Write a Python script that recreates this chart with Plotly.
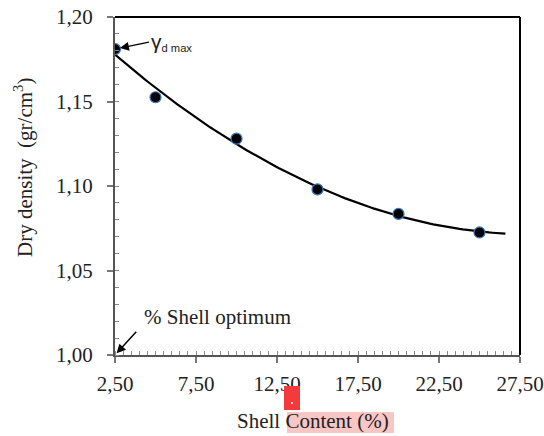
import numpy as np
import plotly.graph_objects as go

shell_content = [2.5, 5.0, 10.0, 15.0, 20.0, 25.0]
dry_density = [1.181, 1.1525, 1.128, 1.098, 1.0835, 1.0725]
trend_end = 26.6

x_ticks = [2.5, 7.5, 12.5, 17.5, 22.5, 27.5]
y_ticks = [1.00, 1.05, 1.10, 1.15, 1.20]

x_title = "Shell Content (%)"
y_title = "Dry density  (gr/cm<sup>3</sup>)"

# polynomial (order 2) trend line fitted to the measured points
coef = np.polyfit(shell_content, dry_density, 2)
xs = np.linspace(shell_content[0], trend_end, 120)
ys = np.polyval(coef, xs)

W, H = 544, 436
ML, MR, MT, MB = 115, 24, 17, 81
serif = "Liberation Serif"
FS = 21

fig = go.Figure()
fig.add_trace(go.Scatter(x=xs, y=ys, mode="lines",
                         line=dict(color="black", width=2.2), hoverinfo="skip"))
fig.add_trace(go.Scatter(x=shell_content, y=dry_density, mode="markers",
                         marker=dict(color="black", size=11,
                                     line=dict(color="#3a78c0", width=1.2))))

def px2paper_x(px):
    return (px - ML) / (W - ML - MR)

def px2paper_y(py):
    return (H - MB - py) / (H - MT - MB)

shapes = [
    dict(type="line", xref="paper", yref="paper", x0=0, x1=1, y0=1, y1=1,
         line=dict(color="black", width=2)),
    dict(type="line", xref="paper", yref="paper", x0=1, x1=1, y0=0, y1=1,
         line=dict(color="black", width=2)),
    dict(type="rect", xref="paper", yref="paper", layer="below",
         x0=px2paper_x(287), x1=px2paper_x(394), y0=px2paper_y(433), y1=px2paper_y(412),
         fillcolor="#f9c6c6", line=dict(width=0)),
    dict(type="rect", xref="paper", yref="paper",
         x0=px2paper_x(284), x1=px2paper_x(300), y0=px2paper_y(410), y1=px2paper_y(386),
         fillcolor="#f43a3a", line=dict(width=0)),
    dict(type="circle", xref="paper", yref="paper",
         x0=px2paper_x(291), x1=px2paper_x(293), y0=px2paper_y(404), y1=px2paper_y(402),
         fillcolor="white", line=dict(width=0)),
]

annotations = [
    dict(x=shell_content[0], y=dry_density[0], xref="x", yref="y",
         ax=34, ay=-7, axref="pixel", ayref="pixel",
         text="<span style='font-size:21px'>γ</span><sub>d max</sub>",
         showarrow=True, arrowhead=2, arrowsize=1.2,
         arrowwidth=1.5, arrowcolor="black", xanchor="left", standoff=5,
         font=dict(family="Liberation Sans", size=16, color="#222")),
    dict(x=2.6, y=1.001, xref="x", yref="y", ax=21, ay=-23,
         text="", showarrow=True, arrowhead=2, arrowsize=1.2,
         arrowwidth=1.5, arrowcolor="black"),
    dict(x=px2paper_x(142), y=px2paper_y(317), xref="paper", yref="paper",
         text="% Shell optimum", showarrow=False, xanchor="left", yanchor="middle",
         font=dict(family=serif, size=FS, color="#222")),
    dict(x=px2paper_x(313), y=px2paper_y(421), xref="paper", yref="paper",
         text=x_title, showarrow=False, xanchor="center", yanchor="middle",
         font=dict(family=serif, size=FS, color="#222")),
    dict(x=px2paper_x(24), y=px2paper_y(168), xref="paper", yref="paper",
         text=y_title, showarrow=False, textangle=-90,
         xanchor="center", yanchor="middle",
         font=dict(family=serif, size=FS, color="#222")),
]

fig.update_layout(
    width=W, height=H,
    margin=dict(l=ML, r=MR, t=MT, b=MB),
    paper_bgcolor="white", plot_bgcolor="white",
    showlegend=False,
    separators=",.",
    shapes=shapes,
    annotations=annotations,
    xaxis=dict(
        range=[2.5, 27.5], tickvals=x_ticks, tickformat=".2f",
        automargin=False,
        showgrid=False, zeroline=False,
        showline=True, linecolor="#555", linewidth=2,
        ticks="outside", ticklen=6, tickwidth=1.5, tickcolor="#777",
        minor=dict(ticks="inside", dtick=0.5, ticklen=4, tickcolor="#888", tickwidth=1),
        ticklabelstandoff=3,
        tickfont=dict(family=serif, size=FS, color="#222"),
    ),
    yaxis=dict(
        range=[1.0, 1.2], tickvals=y_ticks, tickformat=".2f",
        automargin=False,
        showgrid=False, zeroline=False,
        showline=True, linecolor="#555", linewidth=2,
        ticks="outside", ticklen=6, tickwidth=1.5, tickcolor="#777",
        minor=dict(ticks="inside", dtick=0.01, ticklen=4, tickcolor="#888", tickwidth=1),
        ticklabelstandoff=10,
        tickfont=dict(family=serif, size=FS, color="#222"),
    ),
)

fig.write_html("out.html", config={"displayModeBar": False},
               post_script="document.body.style.margin='0';document.body.style.overflow='hidden';")
